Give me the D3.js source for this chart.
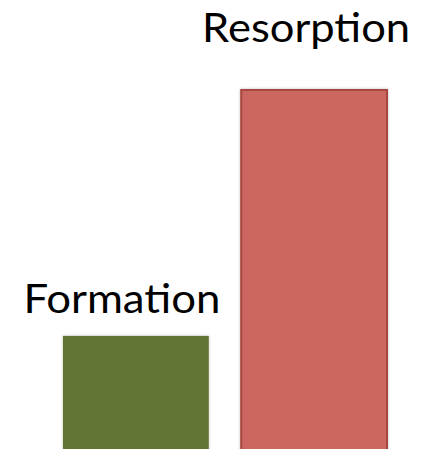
<!DOCTYPE html>
<html>
<head>
<meta charset="utf-8">
<script src="https://cdn.jsdelivr.net/npm/d3@7"></script>
<style>
  html, body { margin: 0; padding: 0; background: #fff; }
  svg { display: block; }
</style>
</head>
<body>
<svg id="chart" width="431" height="449"></svg>
<script>
// bone turnover, relative amounts
const categories = ["Formation", "Resorption"]
const values = [31.5, 100]
const fills = ["#627436", "#cc6660"]
const strokes = ["none", "#a8463f"]

const width = 431
const height = 449

const svg = d3.select("#chart")

const defs = svg.append("defs")
const shadow = defs.append("filter").attr("id", "shadow")
    .attr("x", "-10%").attr("y", "-10%").attr("width", "120%").attr("height", "120%")
shadow.append("feDropShadow")
    .attr("dx", 0).attr("dy", 0).attr("stdDeviation", 1.5)
    .attr("flood-color", "#000").attr("flood-opacity", 0.25)

const x = d3.scaleBand()
    .domain(categories)
    .range([63, 387])
    .paddingInner(0.182)
    .paddingOuter(0)

const y = d3.scaleLinear()
    .domain([0, 100])
    .range([height, 90])

svg.selectAll("rect.bar")
    .data(categories)
    .join("rect")
    .attr("class", "bar")
    .attr("x", d => x(d))
    .attr("y", (d, i) => y(values[i]))
    .attr("width", x.bandwidth())
    .attr("height", (d, i) => y(0) - y(values[i]) + 4)
    .attr("fill", (d, i) => fills[i])
    .attr("stroke", (d, i) => strokes[i])
    .attr("stroke-width", 2)
    .attr("filter", "url(#shadow)")

// labels sit a bit left of each bar centre
const labelLift = [23, 48]
const labelWidth = [197, 208]
svg.selectAll("text.label")
    .data(categories)
    .join("text")
    .attr("class", "label")
    .attr("x", (d, i) => x(d) + x.bandwidth() / 2 - (i === 0 ? 14 : 8))
    .attr("y", (d, i) => y(values[i]) - labelLift[i])
    .attr("text-anchor", "middle")
    .attr("font-family", "Lato, 'Open Sans', sans-serif")
    .attr("font-size", 40)
    .attr("fill", "#000")
    .attr("textLength", (d, i) => labelWidth[i])
    .attr("lengthAdjust", "spacingAndGlyphs")
    .text(d => d)
</script>
</body>
</html>
